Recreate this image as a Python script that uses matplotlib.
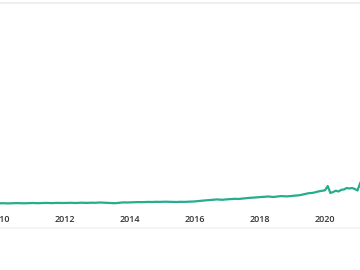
import numpy as np
import matplotlib
matplotlib.use("Agg")
import matplotlib.pyplot as plt
from matplotlib.lines import Line2D

# Monthly values, Jan 2010 .. Feb 2021 (arbitrary units)
start_year = 2010
values = [
    6.7, 6.8, 6.7, 6.6, 6.7, 6.8, 6.9, 6.8, 6.7, 6.7, 6.8, 6.9,   # 2010
    7.0, 6.9, 6.8, 6.9, 7.0, 7.1, 7.0, 6.9, 7.0, 7.1, 7.0, 7.0,   # 2011
    7.0, 7.1, 7.2, 7.1, 7.0, 7.2, 7.3, 7.2, 7.1, 7.2, 7.3, 7.2,   # 2012
    7.4, 7.5, 7.4, 7.3, 7.1, 6.9, 6.8, 6.9, 7.2, 7.5, 7.6, 7.5,   # 2013
    7.6, 7.7, 7.8, 7.9, 7.8, 7.9, 8.0, 8.1, 8.0, 8.1, 8.2, 8.1,   # 2014
    8.2, 8.3, 8.2, 8.1, 8.0, 8.0, 8.1, 8.2, 8.1, 8.2, 8.3, 8.3,   # 2015
    8.6, 8.9, 9.2, 9.4, 9.6, 9.8, 10.0, 10.3, 10.6, 10.4, 10.2, 10.5,  # 2016
    10.7, 10.9, 11.0, 11.2, 11.0, 11.3, 11.6, 11.9, 12.1, 12.3, 12.6, 12.8,  # 2017
    13.0, 13.2, 13.4, 13.5, 13.3, 13.0, 13.4, 13.7, 13.9, 13.8, 13.6, 13.9,  # 2018
    14.2, 14.4, 14.6, 15.0, 15.6, 16.2, 16.8, 17.0, 17.4, 18.2, 18.8, 19.2,  # 2019
    19.7, 24.0, 17.0, 18.0, 19.3, 18.5, 20.2, 20.5, 22.0, 21.5, 22.0, 21.0,  # 2020
    19.5, 27.0,                                                            # 2021
]
tick_years = [2010, 2012, 2014, 2016, 2018, 2020]
tick_labels = [str(y) for y in tick_years]

t = start_year + np.arange(len(values)) / 12.0

W, H = 360, 270
fig = plt.figure(figsize=(3.6, 2.7), dpi=100)
ax_bottom_px, ax_top_px = 208, 3
ax = fig.add_axes([0, 1 - ax_bottom_px / H, 1, (ax_bottom_px - ax_top_px) / H])

ax.plot(t, values, color="#25ad8c", lw=1.6, solid_joinstyle="round")
ax.set_xlim(2010, 2010 + 360 / 32.5)
ax.set_ylim(2, 2 + (ax_bottom_px - ax_top_px))

for s in ["left", "right", "bottom"]:
    ax.spines[s].set_visible(False)
ax.spines["top"].set_color("#ececec")
ax.spines["top"].set_linewidth(1.2)
ax.set_yticks([])
ax.set_xticks(tick_years)
ax.set_xticklabels(tick_labels)
ax.tick_params(axis="x", length=0, pad=5, labelsize=6.5, labelcolor="#333333")
for lab in ax.get_xticklabels():
    lab.set_fontfamily(["Open Sans", "DejaVu Sans"])
    lab.set_fontweight("semibold")

fig.add_artist(Line2D([0, 1], [1 - 228 / H, 1 - 228 / H], transform=fig.transFigure,
                      color="#f2f2f2", lw=1.2))

fig.savefig("out.png", dpi=100)
